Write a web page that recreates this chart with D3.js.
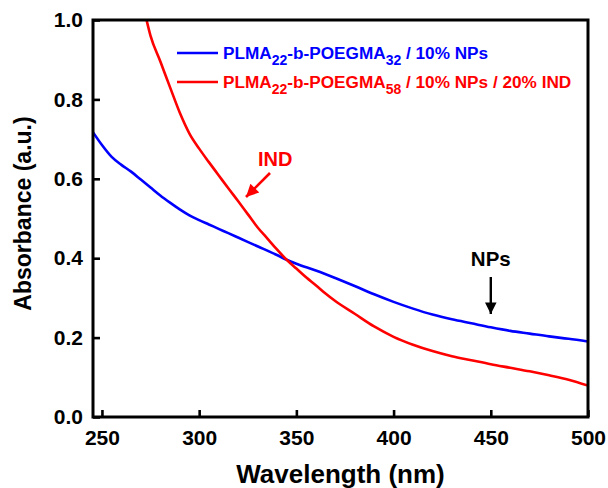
<!DOCTYPE html>
<html>
<head>
<meta charset="utf-8">
<script src="https://cdn.jsdelivr.net/npm/d3@7"></script>
<style>
  html, body { margin: 0; padding: 0; background: #fff; }
  svg text { font-family: Arial, "Liberation Sans", sans-serif; font-weight: bold; }
</style>
</head>
<body>
<svg id="chart" width="608" height="488"></svg>
<script>
// Absorbance spectra (wavelength in nm, absorbance in a.u.)
const blueWavelength = [245, 250, 255, 260, 265, 270, 275, 280, 285, 290, 295, 300, 305, 310, 315, 320, 330, 340, 345, 350, 360, 370, 380, 390, 400, 410, 420, 430, 440, 450, 460, 470, 480, 490, 500];
const blueAbsorbance = [0.720, 0.685, 0.655, 0.635, 0.618, 0.598, 0.578, 0.558, 0.540, 0.523, 0.508, 0.496, 0.485, 0.474, 0.463, 0.452, 0.430, 0.408, 0.396, 0.386, 0.369, 0.350, 0.330, 0.309, 0.290, 0.273, 0.258, 0.246, 0.236, 0.226, 0.217, 0.210, 0.203, 0.197, 0.190];

const redWavelength = [272, 275, 280, 285, 290, 295, 300, 305, 310, 315, 320, 325, 330, 335, 340, 345, 350, 355, 360, 365, 370, 380, 390, 400, 410, 420, 430, 440, 450, 460, 470, 480, 490, 500];
const redAbsorbance = [1.02, 0.96, 0.896, 0.831, 0.767, 0.714, 0.676, 0.642, 0.609, 0.576, 0.544, 0.511, 0.478, 0.450, 0.422, 0.396, 0.374, 0.352, 0.332, 0.311, 0.292, 0.260, 0.228, 0.202, 0.182, 0.166, 0.153, 0.143, 0.133, 0.124, 0.115, 0.105, 0.094, 0.079];

const xTicks = [250, 300, 350, 400, 450, 500];
const yTicks = [0.0, 0.2, 0.4, 0.6, 0.8, 1.0];

const seriesNames = [
  { parts: ["PLMA", "22", "-b-POEGMA", "32", " / 10% NPs"], color: "#0000ff" },
  { parts: ["PLMA", "22", "-b-POEGMA", "58", " / 10% NPs / 20% IND"], color: "#ff0000" }
];

const svg = d3.select("#chart");
const margin = { left: 93, right: 20, top: 20, bottom: 71 };
const W = 608, H = 488;
const x = d3.scaleLinear().domain([245.4, 500]).range([margin.left, W - margin.right]);
const y = d3.scaleLinear().domain([0, 1]).range([H - margin.bottom, margin.top]);

const defs = svg.append("defs");
defs.append("clipPath").attr("id", "plotClip")
  .append("rect")
  .attr("x", x.range()[0]).attr("y", y.range()[1])
  .attr("width", x.range()[1] - x.range()[0])
  .attr("height", y.range()[0] - y.range()[1]);

const line = d3.line().x(d => x(d[0])).y(d => y(d[1])).curve(d3.curveMonotoneX);

const plot = svg.append("g").attr("clip-path", "url(#plotClip)");
plot.append("path")
  .datum(blueWavelength.map((w, i) => [w, blueAbsorbance[i]]))
  .attr("d", line).attr("fill", "none").attr("stroke", "#0000ff").attr("stroke-width", 2.6);
plot.append("path")
  .datum(redWavelength.map((w, i) => [w, redAbsorbance[i]]))
  .attr("d", line).attr("fill", "none").attr("stroke", "#ff0000").attr("stroke-width", 2.6);

// Axes with inward ticks
const xAxis = d3.axisBottom(x).tickValues(xTicks).tickFormat(d3.format("d")).tickSizeInner(-7).tickSizeOuter(0).tickPadding(13);
const yAxis = d3.axisLeft(y).tickValues(yTicks).tickFormat(d3.format(".1f")).tickSizeInner(-7).tickSizeOuter(0).tickPadding(10);

const gx = svg.append("g").attr("transform", `translate(0,${y(0)})`).call(xAxis);
const gy = svg.append("g").attr("transform", `translate(${x.range()[0]},0)`).call(yAxis);
[gx, gy].forEach(g => {
  g.selectAll("path.domain").remove();
  g.selectAll(".tick line").attr("stroke", "#000").attr("stroke-width", 2.6);
  g.selectAll(".tick text").attr("fill", "#000").style("font-size", "21px").style("font-family", "Arial, 'Liberation Sans', sans-serif").style("font-weight", "bold");
});

// Frame
svg.append("rect")
  .attr("x", x.range()[0]).attr("y", y.range()[1])
  .attr("width", x.range()[1] - x.range()[0])
  .attr("height", y.range()[0] - y.range()[1])
  .attr("fill", "none").attr("stroke", "#000").attr("stroke-width", 3);

// Axis titles
svg.append("text")
  .attr("x", (x.range()[0] + x.range()[1]) / 2).attr("y", 483)
  .attr("text-anchor", "middle").style("font-size", "26px").text("Wavelength (nm)");
svg.append("text")
  .attr("transform", `translate(31,${(y.range()[0] + y.range()[1]) / 2 - 5}) rotate(-90)`)
  .attr("text-anchor", "middle").style("font-size", "23px").text("Absorbance (a.u.)");

// Legend
const legendY = [53, 82];
seriesNames.forEach((s, i) => {
  svg.append("line")
    .attr("x1", 177).attr("x2", 218).attr("y1", legendY[i]).attr("y2", legendY[i])
    .attr("stroke", s.color).attr("stroke-width", 2.6);
  const t = svg.append("text").attr("x", 223).attr("y", legendY[i] + 6)
    .attr("fill", s.color).style("font-size", "17.2px");
  s.parts.forEach((part, k) => {
    const isSub = k === 1 || k === 3;
    t.append("tspan")
      .attr("dy", isSub ? 6 : (k === 0 ? 0 : -6))
      .style("font-size", isSub ? "14px" : "17.2px")
      .text(part);
  });
});

// Annotation arrows
[["arrowRed", "#ff0000"], ["arrowBlack", "#000"]].forEach(([id, c]) => {
  defs.append("marker").attr("id", id)
    .attr("viewBox", "0 0 10 10").attr("refX", 10).attr("refY", 5)
    .attr("markerWidth", 6.2).attr("markerHeight", 4.8).attr("markerUnits", "strokeWidth")
    .attr("orient", "auto")
    .append("path").attr("d", "M0,0 L10,5 L0,10 Z").attr("fill", c);
});

svg.append("text").attr("x", 258).attr("y", 166).attr("fill", "#ff0000").style("font-size", "20px").text("IND");
svg.append("line").attr("x1", 270).attr("y1", 173).attr("x2", 246).attr("y2", 197)
  .attr("stroke", "#ff0000").attr("stroke-width", 2.6).attr("marker-end", "url(#arrowRed)");

svg.append("text").attr("x", x(450)).attr("y", 266).attr("text-anchor", "middle").attr("fill", "#000").style("font-size", "20.5px").text("NPs");
svg.append("line").attr("x1", x(450)).attr("y1", 277).attr("x2", x(450)).attr("y2", 314)
  .attr("stroke", "#000").attr("stroke-width", 2.4).attr("marker-end", "url(#arrowBlack)");
</script>
</body>
</html>
